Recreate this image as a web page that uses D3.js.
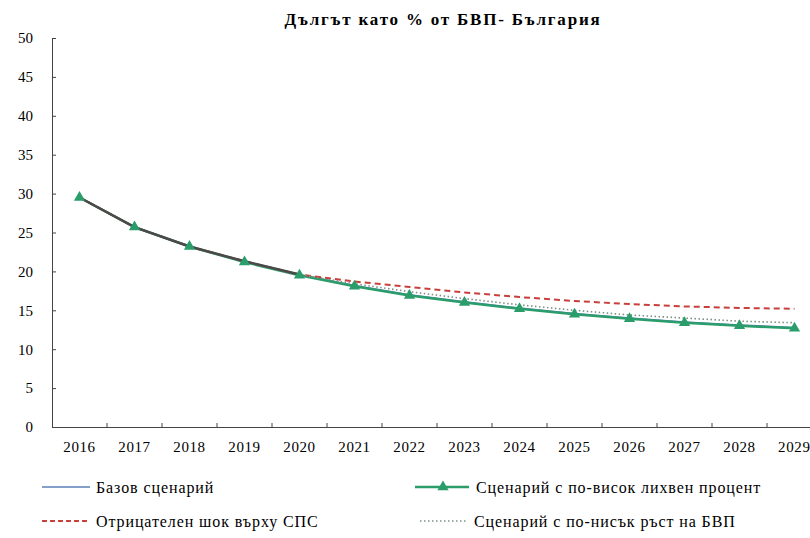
<!DOCTYPE html>
<html>
<head>
<meta charset="utf-8">
<script src="https://cdn.jsdelivr.net/npm/d3@7"></script>
<style>
  body { margin: 0; background: #fff; }
</style>
</head>
<body>
<div id="chart"></div>
<script>
const years = ['2016','2017','2018','2019','2020','2021','2022','2023','2024','2025','2026','2027','2028','2029'];
const baseScenario = [29.5, 25.7, 23.2, 21.3, 19.6, 18.2, 17.0, 16.1, 15.3, 14.6, 14.0, 13.5, 13.1, 12.8];
const highRate = [29.5, 25.7, 23.2, 21.2, 19.5, 18.1, 16.9, 16.0, 15.2, 14.5, 13.9, 13.4, 13.0, 12.7];
const spsShock = [29.5, 25.7, 23.2, 21.3, 19.6, 18.7, 18.0, 17.3, 16.7, 16.2, 15.8, 15.5, 15.3, 15.2];
const lowGrowth = [29.5, 25.7, 23.2, 21.3, 19.6, 18.4, 17.4, 16.5, 15.7, 15.0, 14.4, 14.0, 13.6, 13.4];
const yTicks = [0, 5, 10, 15, 20, 25, 30, 35, 40, 45, 50];

const width = 810, height = 538;
const margin = { left: 52, top: 38, bottom: 111 };
const plotRight = 822;
const serif = 'Liberation Serif, DejaVu Serif, serif';

const svg = d3.select('#chart').append('svg')
  .attr('width', width).attr('height', height)
  .attr('font-family', serif);

const x = d3.scaleBand().domain(years).range([margin.left, plotRight]);
const y = d3.scaleLinear().domain([0, 50]).range([height - margin.bottom, margin.top]);

// title
svg.append('text')
  .attr('x', 443).attr('y', 25)
  .attr('text-anchor', 'middle')
  .attr('font-family', serif)
  .attr('font-size', 17).attr('font-weight', 'bold')
  .attr('letter-spacing', 1.8)
  .text('Дългът като % от БВП- България');

// y axis
const yAxis = svg.append('g')
  .attr('transform', `translate(${margin.left},0)`)
  .call(d3.axisLeft(y).tickValues(yTicks).tickSize(-4).tickPadding(19));
yAxis.attr('font-family', serif);
yAxis.select('.domain').attr('stroke', '#444');
yAxis.selectAll('.tick line').attr('stroke', '#444');
yAxis.selectAll('text').attr('font-size', 15).attr('fill', '#000');

// x axis
const xAxis = svg.append('g')
  .attr('transform', `translate(0,${y(0)})`)
  .call(d3.axisBottom(x).tickSize(0).tickPadding(14));
xAxis.attr('font-family', serif);
xAxis.select('.domain').attr('stroke', '#444');
xAxis.selectAll('text').attr('font-size', 15).attr('fill', '#000')
  .attr('letter-spacing', 0.6);
// last label sits at the right edge, keep it inside the page
xAxis.selectAll('.tick').filter(d => d === '2029').select('text')
  .attr('text-anchor', 'end').attr('dx', 16);
// tick marks between categories, pointing up
svg.append('g').selectAll('line')
  .data(years.slice(1))
  .join('line')
  .attr('x1', d => x(d)).attr('x2', d => x(d))
  .attr('y1', y(0)).attr('y2', y(0) - 4)
  .attr('stroke', '#444');

const line = d3.line()
  .x((d, i) => x(years[i]) + x.bandwidth() / 2)
  .y(d => y(d));

const green = '#2a9d6b';

svg.append('path').datum(baseScenario)
  .attr('fill', 'none').attr('stroke', '#5b7fb8').attr('stroke-width', 1.5)
  .attr('d', line);

svg.append('path').datum(highRate)
  .attr('fill', 'none').attr('stroke', green).attr('stroke-width', 2.5)
  .attr('d', line);

svg.append('path').datum(spsShock)
  .attr('fill', 'none').attr('stroke', '#c8403c').attr('stroke-width', 2)
  .attr('stroke-dasharray', '6,4')
  .attr('d', line);

svg.append('path').datum(lowGrowth)
  .attr('fill', 'none').attr('stroke', '#7d8f84').attr('stroke-width', 1.6)
  .attr('stroke-dasharray', '1.5,2.5')
  .attr('d', line);

// dark overlap line for common part
svg.append('path').datum(baseScenario.slice(0, 5))
  .attr('fill', 'none').attr('stroke', '#4a4a4a').attr('stroke-width', 2.5)
  .attr('d', line);

const tri = d3.symbol().type(d3.symbolTriangle).size(55);
svg.append('g').selectAll('path')
  .data(highRate)
  .join('path')
  .attr('d', tri)
  .attr('transform', (d, i) => `translate(${x(years[i]) + x.bandwidth() / 2},${y(d)})`)
  .attr('fill', green);

// legend
const legend = [
  { label: 'Базов сценарий', x: 42, y: 487, stroke: '#5b7fb8', w: 1.5, dash: null, marker: false },
  { label: 'Сценарий с по-висок лихвен процент', x: 415, y: 487, stroke: green, w: 2.5, dash: null, marker: true },
  { label: 'Отрицателен шок върху СПС', x: 42, y: 521, stroke: '#c8403c', w: 2, dash: '5,3', marker: false },
  { label: 'Сценарий с по-нисък ръст на БВП', x: 420, y: 521, stroke: '#7d8f84', w: 1.6, dash: '1.5,2.5', marker: false }
];
const lg = svg.append('g').selectAll('g').data(legend).join('g')
  .attr('transform', d => `translate(${d.x},${d.y})`);
lg.append('line')
  .attr('x1', 0).attr('x2', d => d.marker ? 54 : 48)
  .attr('stroke', d => d.stroke).attr('stroke-width', d => d.w)
  .attr('stroke-dasharray', d => d.dash);
lg.filter(d => d.marker).append('path')
  .attr('d', tri).attr('transform', 'translate(28,0)').attr('fill', green);
lg.append('text')
  .attr('x', d => d.marker ? 61 : 54).attr('y', 6)
  .attr('font-family', serif)
  .attr('font-size', 16)
  .attr('letter-spacing', 0.9)
  .text(d => d.label);
</script>
</body>
</html>
